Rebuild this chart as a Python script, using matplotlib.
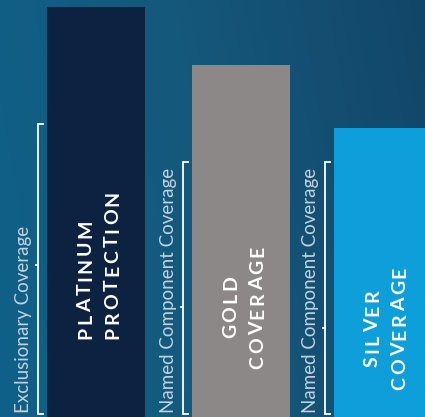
import numpy as np
import matplotlib.pyplot as plt
from matplotlib.colors import LinearSegmentedColormap

# data
labels = [['PLATINUM', 'PROTECTION'], ['GOLD', 'COVERAGE'], ['SILVER', 'COVERAGE']]
side_labels = ['Exclusionary Coverage', 'Named Component Coverage', 'Named Component Coverage']
values = [410, 352, 289]
bracket_top = [293, 255, 255]
bracket_mid = [152, 110, 89]
bar_x = [96, 241, 383]
bar_colors = ['#0d2240', '#8c8887', '#0e9fdb']

W, H = 425, 417
fig = plt.figure(figsize=(W / 100, H / 100), dpi=100)
ax = fig.add_axes([0, 0, 1, 1])
ax.set_xlim(0, W)
ax.set_ylim(0, H)
ax.axis('off')
renderer = fig.canvas.get_renderer()

# background gradient
cmap = LinearSegmentedColormap.from_list('bg', ['#0f6189', '#15587b', '#124669'])
xx, yy = np.meshgrid(np.linspace(0, 1, 200), np.linspace(0, 1, 200))
grad = 0.85 * xx + 0.15 * (1 - yy)
ax.imshow(grad, cmap=cmap, extent=[0, W, 0, H], aspect='auto', origin='upper', zorder=0)

ax.bar(bar_x, values, width=98, color=bar_colors, zorder=2)


def text_width(s, **kw):
    t = ax.text(0, 0, s, **kw)
    w = t.get_window_extent(renderer).width
    t.remove()
    return w


def spaced_up(x, y, s, spacing, **kw):
    # vertical text reading bottom to top, with letter spacing, baseline at x
    pos = []
    for k in range(len(s)):
        pos.append(text_width(s[:k] + 'I', **kw) - text_width('I', **kw) + k * spacing if k else 0)
    for k, ch in enumerate(s):
        ax.text(x, y + pos[k], ch, rotation=90, rotation_mode='anchor',
                ha='left', va='baseline', zorder=3, **kw)


lab_kw = dict(color='white', fontsize=14, fontweight='bold', family='Lato')
sp = 2.6
for i, x in enumerate(bar_x):
    l1, l2 = labels[i]
    w1 = text_width(l1, **lab_kw) + (len(l1) - 1) * sp
    w2 = text_width(l2, **lab_kw) + (len(l2) - 1) * sp
    if i == 0:
        start = bracket_mid[i] - w2 / 2
        y1, y2 = start, start
    else:
        y1 = bracket_mid[i] - w1 / 2
        y2 = bracket_mid[i] - w2 / 2
    spaced_up(x - 5, y1, l1, sp, **lab_kw)
    spaced_up(x + 22, y2, l2, sp, **lab_kw)

    # bracket
    bx = x - 49 - 8.5
    bot = 3
    top = bracket_top[i]
    ax.plot([bx + 5, bx, bx, bx + 5], [top, top, bot, bot], color='white', lw=1.3,
            solid_joinstyle='miter', zorder=3)
    ax.plot([bx, bx - 2.5], [bracket_mid[i], bracket_mid[i]], color='white', lw=1.3, zorder=3)
    ax.text(bx - 9, 4, side_labels[i], rotation=90, rotation_mode='anchor',
            color='#c6d1db', fontsize=13.5, family='Lato', fontweight='normal',
            ha='left', va='baseline', zorder=3)

fig.savefig('out.png', dpi=100)
